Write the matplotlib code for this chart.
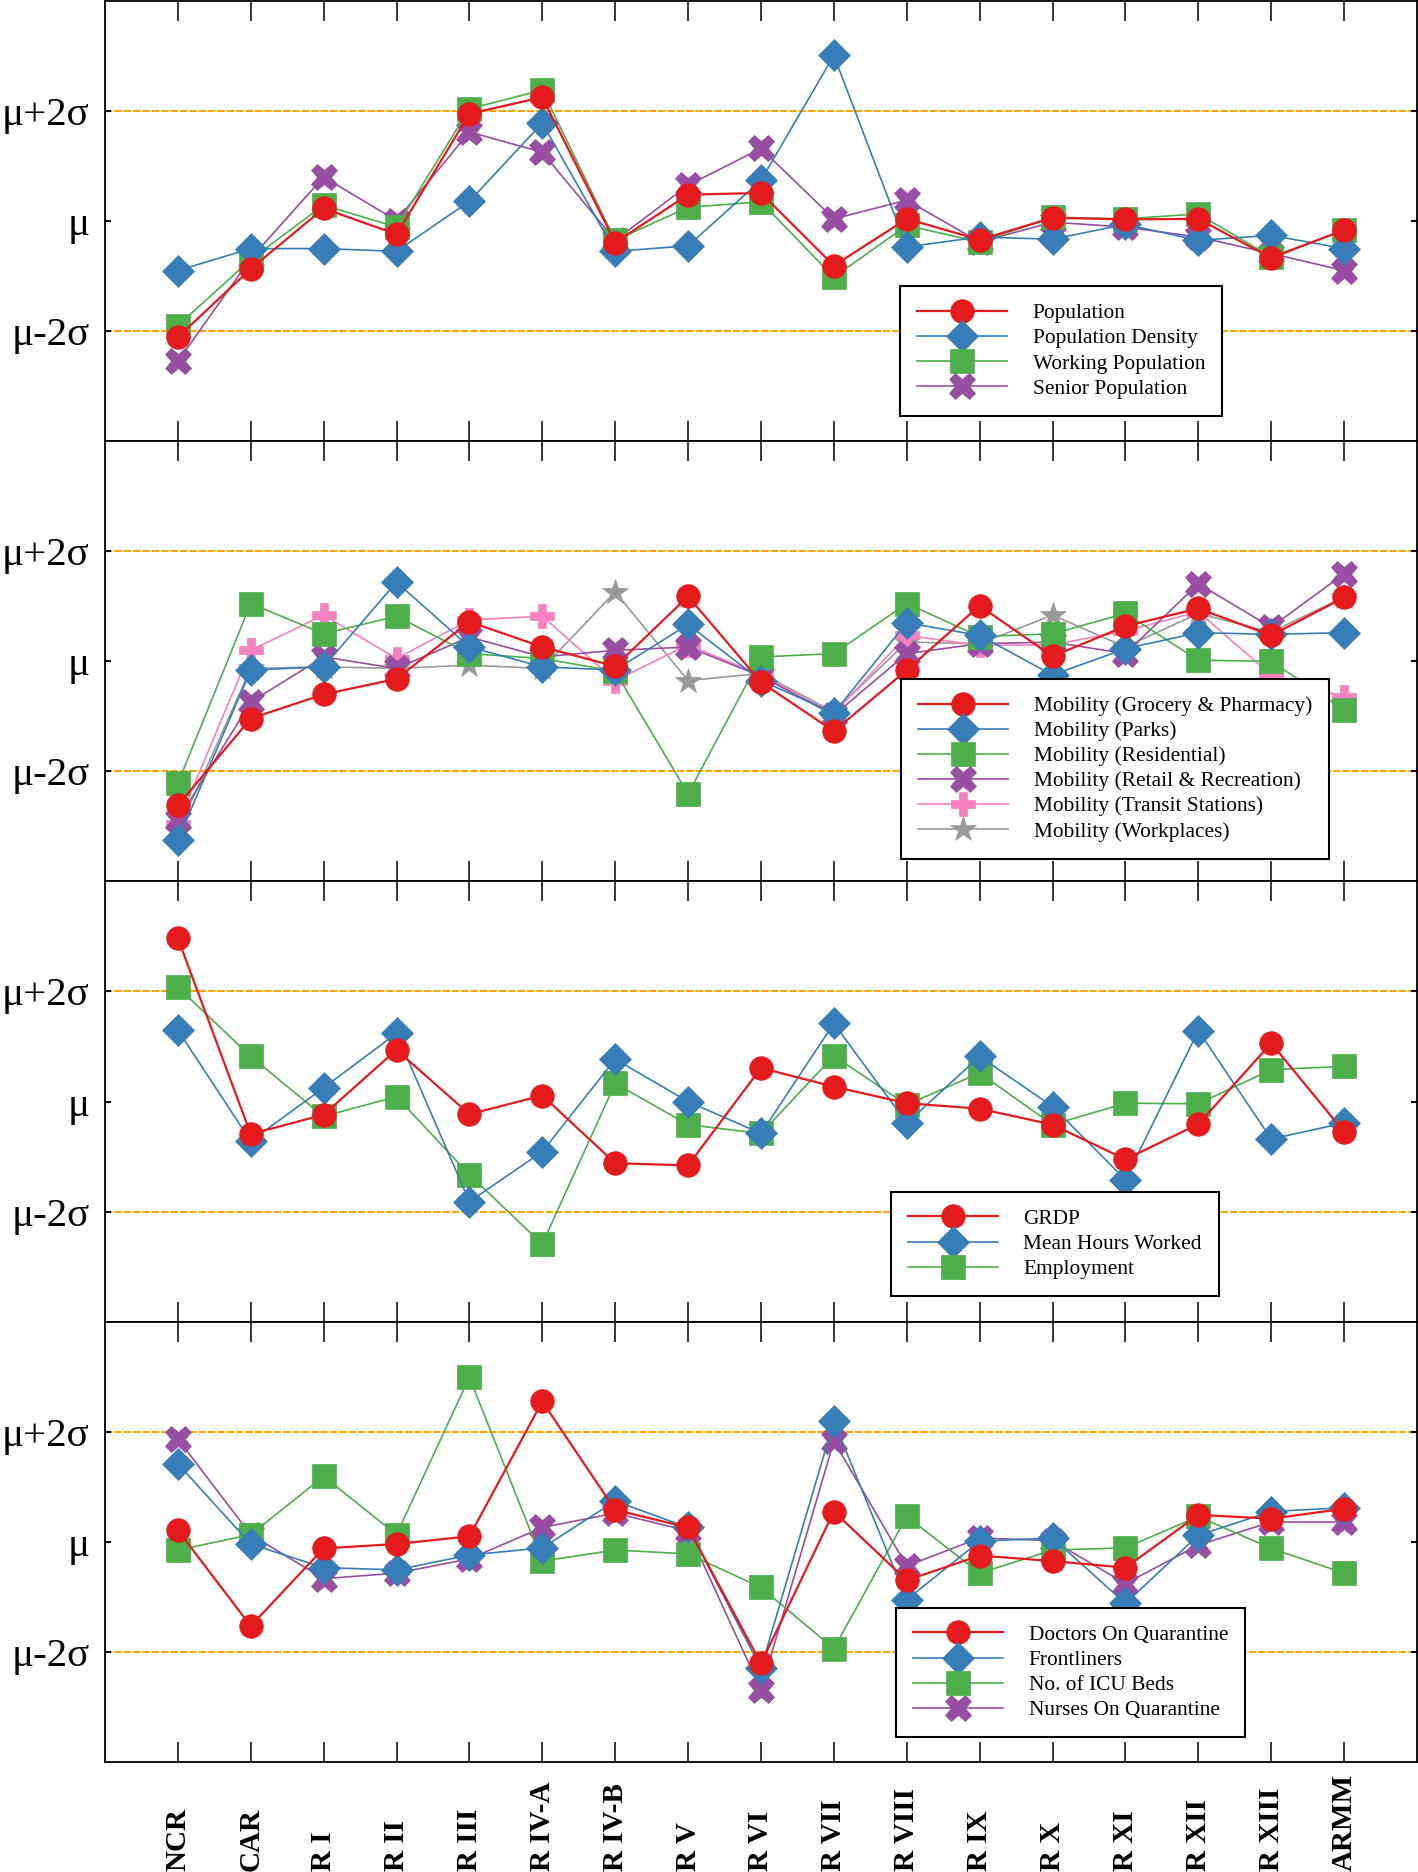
import matplotlib.pyplot as plt
from matplotlib.transforms import blended_transform_factory

plt.rcParams['font.family'] = ['Liberation Serif', 'DejaVu Serif']

regiones = ["NCR", "CAR", "R I", "R II", "R III", "R IV-A", "R IV-B", "R V", "R VI",
            "R VII", "R VIII", "R IX", "R X", "R XI", "R XII", "R XIII", "ARMM"]

# valores en unidades de sigma (mu = 0)
# panel 1: poblacion
population = [-2.11, -0.87, 0.23, -0.24, 1.95, 2.25, -0.39, 0.48, 0.51, -0.81, 0.04, -0.34, 0.06, 0.03, 0.04, -0.67, -0.16]
pop_density = [-0.90, -0.50, -0.50, -0.55, 0.36, 1.78, -0.55, -0.45, 0.74, 3.01, -0.47, -0.29, -0.33, -0.06, -0.35, -0.26, -0.50]
working_pop = [-1.90, -0.70, 0.29, -0.11, 2.04, 2.38, -0.35, 0.25, 0.35, -1.02, -0.08, -0.38, 0.07, 0.04, 0.13, -0.65, -0.17]
senior_pop = [-2.55, -0.68, 0.80, 0.01, 1.62, 1.25, -0.35, 0.65, 1.32, 0.04, 0.38, -0.38, -0.02, -0.11, -0.29, -0.59, -0.90]

# panel 2: movilidad
grocery = [-2.62, -1.04, -0.60, -0.32, 0.72, 0.26, -0.09, 1.18, -0.38, -1.27, -0.16, 1.01, 0.09, 0.64, 0.96, 0.47, 1.16]
parks = [-3.25, -0.16, -0.10, 1.44, 0.26, -0.10, -0.16, 0.67, -0.35, -0.94, 0.70, 0.47, -0.25, 0.23, 0.52, 0.49, 0.52]
residential = [-2.22, 1.05, 0.50, 0.82, 0.14, 0.05, -0.18, -2.41, 0.08, 0.14, 1.05, 0.45, 0.50, 0.87, 0.02, 0.00, -0.88]
retail = [-2.89, -0.74, 0.08, -0.13, 0.44, 0.08, 0.20, 0.26, -0.27, -0.98, 0.14, 0.32, 0.35, 0.14, 1.41, 0.62, 1.59]
transit = [-2.95, 0.20, 0.84, 0.05, 0.75, 0.82, -0.35, 0.30, -0.25, -0.95, 0.47, 0.29, 0.30, 0.55, 0.90, -0.25, -0.65]
workplaces = [-3.10, -0.13, -0.10, -0.13, -0.07, -0.13, 1.26, -0.35, -0.22, -0.92, 0.35, 0.32, 0.84, 0.26, 0.87, 0.53, 1.17]

# panel 3: economia
grdp = [2.97, -0.59, -0.24, 0.94, -0.23, 0.11, -1.12, -1.16, 0.61, 0.27, -0.03, -0.13, -0.42, -1.05, -0.41, 1.06, -0.55]
mean_hours = [1.30, -0.72, 0.25, 1.24, -1.82, -0.91, 0.77, 0.00, -0.58, 1.42, -0.39, 0.82, -0.09, -1.42, 1.29, -0.68, -0.39]
employment = [2.08, 0.82, -0.27, 0.09, -1.33, -2.59, 0.33, -0.42, -0.58, 0.83, -0.06, 0.52, -0.42, -0.03, -0.04, 0.58, 0.64]

# panel 4: salud
doctors = [0.21, -1.53, -0.12, -0.04, 0.10, 2.55, 0.58, 0.26, -2.21, 0.55, -0.70, -0.25, -0.35, -0.47, 0.49, 0.42, 0.60]
frontliners = [1.42, -0.04, -0.47, -0.51, -0.24, -0.11, 0.74, 0.26, -2.30, 2.19, -1.05, 0.01, 0.07, -1.12, 0.12, 0.55, 0.62]
icu_beds = [-0.15, 0.13, 1.19, 0.13, 2.99, -0.35, -0.15, -0.22, -0.83, -1.94, 0.46, -0.57, -0.15, -0.11, 0.46, -0.12, -0.57]
nurses = [1.87, 0.13, -0.67, -0.57, -0.31, 0.26, 0.52, 0.20, -2.69, 1.83, -0.44, 0.07, 0.02, -0.76, -0.06, 0.36, 0.36]

colores = ['#e41a1c', '#377eb8', '#4daf4a', '#984ea3', '#f781bf', '#999999']
marcadores = ['o', 'D', 's', 'X', 'P', '*']
tam_marcador = [17, 16.5, 17, 19, 17, 19]

paneles = [
    ([population, pop_density, working_pop, senior_pop],
     ["Population", "Population Density", "Working Population", "Senior Population"],
     (0.606, 0.352)),
    ([grocery, parks, residential, retail, transit, workplaces],
     ["Mobility (Grocery & Pharmacy)", "Mobility (Parks)", "Mobility (Residential)",
      "Mobility (Retail & Recreation)", "Mobility (Transit Stations)", "Mobility (Workplaces)"],
     (0.607, 0.46)),
    ([grdp, mean_hours, employment],
     ["GRDP", "Mean Hours Worked", "Employment"],
     (0.599, 0.295)),
    ([doctors, frontliners, icu_beds, nurses],
     ["Doctors On Quarantine", "Frontliners", "No. of ICU Beds", "Nurses On Quarantine"],
     (0.603, 0.35)),
]

fig = plt.figure(figsize=(14.18, 18.72), dpi=100)
axes = fig.subplots(4, 1, sharex=True)
fig.subplots_adjust(left=0.074, right=0.9993, top=0.9995, bottom=0.0588, hspace=0)

x = list(range(len(regiones)))

for ax, (series, nombres, ancla) in zip(axes, paneles):
    ax.axhline(2, color='#ffa500', lw=1.5, ls=(0, (3.5, 1)), zorder=1)
    ax.axhline(-2, color='#ffa500', lw=1.5, ls=(0, (3.5, 1)), zorder=1)
    for i, (y, nombre) in enumerate(zip(series, nombres)):
        ax.plot(x, y, marker=marcadores[i], color=colores[i], ms=tam_marcador[i],
                mec=colores[i], mew=0.5, lw=1.6 if i == 0 else 1.2,
                label=nombre, zorder=10 - i)
    ax.set_xlim(-1, 17)
    ax.set_ylim(-4, 4)
    ax.set_yticks([-2, 0, 2])
    ax.set_yticklabels(['μ-2σ', 'μ', 'μ+2σ'])
    ax.set_xticks(x)
    ax.tick_params(axis='x', direction='in', top=True, bottom=True, length=14.4,
                   width=1.1, labelbottom=False)
    ax.tick_params(axis='y', direction='in', left=True, right=True, length=4.5,
                   width=1.5, labelsize=29.5, pad=11)
    for s in ax.spines.values():
        s.set_linewidth(1.3)
    leg = ax.legend(loc='upper left', bbox_to_anchor=ancla, borderaxespad=0,
                    fontsize=15.4, handlelength=4.2, handletextpad=1.2,
                    borderpad=0.8, labelspacing=0.24, fancybox=False, framealpha=1)
    leg.get_frame().set_edgecolor('black')
    leg.get_frame().set_linewidth(1.5)
    leg.set_zorder(20)

# etiquetas de regiones, ancladas abajo
trans = blended_transform_factory(axes[3].transData, fig.transFigure)
for i, r in enumerate(regiones):
    axes[3].text(i, 0.0005, r, transform=trans, rotation=90, ha='center', va='bottom',
                 fontsize=21, fontweight='bold', clip_on=False)

fig.savefig('out.png', dpi=100)
